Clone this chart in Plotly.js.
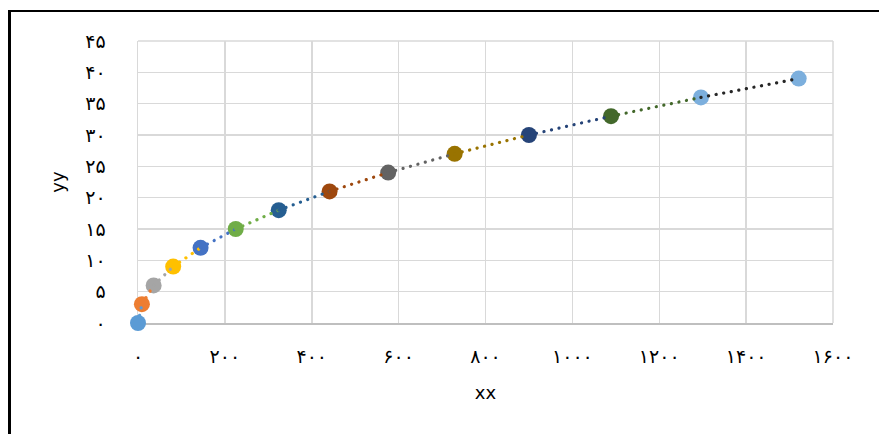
<!DOCTYPE html>
<html>
<head>
<meta charset="utf-8">
<script src="https://cdn.plot.ly/plotly-3.0.1.min.js"></script>
<style>
  html, body { margin: 0; padding: 0; background: #fff; }
  #wrap { position: relative; width: 879px; height: 434px; }
  #chart { width: 879px; height: 434px; }
  #frame { position: absolute; left: 8px; top: 10px; width: 900px; height: 500px;
           border-left: 3px solid #000; border-top: 2px solid #000; pointer-events: none; }
  .js-line { stroke-linecap: round; }
</style>
</head>
<body>
<div id="wrap">
  <div id="chart"></div>
  <div id="frame"></div>
</div>
<script>
// Data
const xValues = [0, 9, 36, 81, 144, 225, 324, 441, 576, 729, 900, 1089, 1296, 1521];
const yValues = [0, 3, 6, 9, 12, 15, 18, 21, 24, 27, 30, 33, 36, 39];
const markerColors = ['#5B9BD5', '#ED7D31', '#A5A5A5', '#FFC000', '#4472C4', '#70AD47',
                      '#255E91', '#9E480E', '#636363', '#997300', '#264478', '#43682B',
                      '#7CAFDD', '#7CAFDD'];
const segmentColors = ['#5B9BD5', '#ED7D31', '#A5A5A5', '#FFC000', '#4472C4', '#70AD47',
                       '#255E91', '#9E480E', '#636363', '#997300', '#264478', '#43682B',
                       '#262626'];
const xTickVals = [0, 200, 400, 600, 800, 1000, 1200, 1400, 1600];
const xTickText = ['۰', '۲۰۰', '۴۰۰', '۶۰۰', '۸۰۰', '۱۰۰۰', '۱۲۰۰', '۱۴۰۰', '۱۶۰۰'];
const yTickVals = [0, 5, 10, 15, 20, 25, 30, 35, 40, 45];
const yTickText = ['۰', '۵', '۱۰', '۱۵', '۲۰', '۲۵', '۳۰', '۳۵', '۴۰', '۴۵'];

const traces = [];
traces.push({
  x: xValues, y: yValues, type: 'scatter', mode: 'markers', cliponaxis: false,
  marker: { size: 16, color: markerColors, line: { width: 0 } },
  showlegend: false, hoverinfo: 'x+y'
});
for (let i = 0; i < xValues.length - 1; i++) {
  traces.push({
    x: [xValues[i], xValues[i + 1]], y: [yValues[i], yValues[i + 1]],
    type: 'scatter', mode: 'lines', cliponaxis: false,
    line: { color: segmentColors[i], width: 3.2, dash: '0.1px,7.6px' },
    showlegend: false, hoverinfo: 'skip'
  });
}

const tickFont = { family: 'DejaVu Sans, Noto Sans, sans-serif', size: 19, color: '#000' };
const layout = {
  width: 879, height: 434,
  margin: { l: 137.5, r: 45.7, t: 41, b: 111.3 },
  paper_bgcolor: '#fff', plot_bgcolor: '#fff',
  showlegend: false,
  xaxis: {
    range: [0, 1600], tickvals: xTickVals, ticktext: xTickText,
    showgrid: true, gridcolor: '#D9D9D9', gridwidth: 1.5,
    zeroline: false, showline: true, linecolor: '#BFBFBF', linewidth: 1.5,
    layer: 'below traces',
    mirror: false, ticks: '', tickfont: tickFont, ticklabelstandoff: 16,
    title: { text: 'xx', font: { family: 'DejaVu Sans, sans-serif', size: 18, color: '#000' }, standoff: 20 },
    fixedrange: true
  },
  yaxis: {
    range: [0, 45], tickvals: yTickVals, ticktext: yTickText,
    showgrid: true, gridcolor: '#D9D9D9', gridwidth: 1.5,
    zeroline: false, showline: true, linecolor: '#D9D9D9', linewidth: 1.5,
    layer: 'below traces',
    ticks: '', tickfont: tickFont, ticklabelstandoff: 27,
    title: { text: 'yy', font: { family: 'DejaVu Sans, sans-serif', size: 18, color: '#000' }, standoff: 16 },
    fixedrange: true
  },
  shapes: [
    { type: 'line', xref: 'paper', yref: 'paper', x0: 0, x1: 1, y0: 1, y1: 1,
      line: { color: '#D9D9D9', width: 1.5 }, layer: 'below' },
    { type: 'line', xref: 'paper', yref: 'paper', x0: 1, x1: 1, y0: 0, y1: 1,
      line: { color: '#D9D9D9', width: 1.5 }, layer: 'below' }
  ]
};

Plotly.newPlot('chart', traces, layout, { staticPlot: true, displayModeBar: false });
</script>
</body>
</html>
